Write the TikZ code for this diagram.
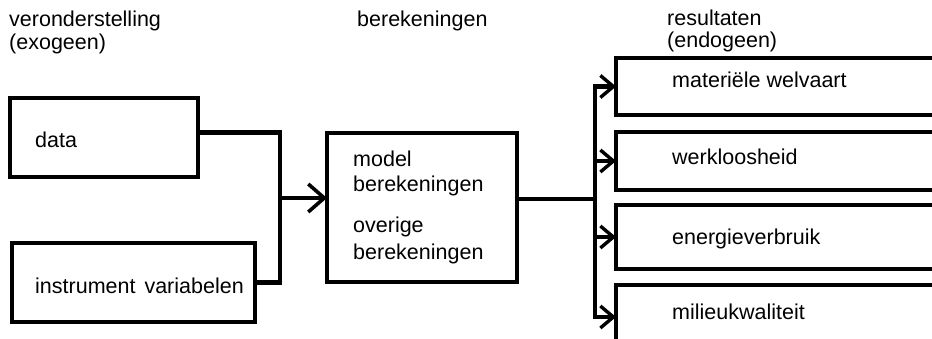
\documentclass[tikz,border=0pt]{standalone}
\usepackage{fontspec}
\setmainfont{Liberation Sans}
\usetikzlibrary{arrows.meta, positioning}

\begin{document}
\begin{tikzpicture}[x=1pt, y=-1pt]
		\tikzset {box/.style={draw, line width=3.5pt, inner sep=0pt, outer sep=0pt, anchor=north west},
			resbox/.style={box, minimum width=344pt},
			txt/.style={anchor=base west, inner sep=0pt, font=\fontsize{21.5}{26}\selectfont},
			wire/.style={line width=4.4pt},
			bigtip/.style={-{Straight Barb[length=16pt, width=28pt, line width=3.6pt]}},
			smalltip/.style={-{Straight Barb[length=13pt, width=22pt, line width=3.4pt]}} }

		\clip (0,0) rectangle (932,339);

		\node[txt] (exo) at (9,27) {veronderstelling};
		\node[txt] (exob) at (9,50) {(exogeen)};
		\node[txt] (ber) at (357,27) {berekeningen};
		\node[txt] (endo) at (667,26) {resultaten};
		\node[txt] (endob) at (667,48) {(endogeen)};

		\node[box, minimum width=188pt, minimum height=79pt] (data) at (10,98) {};
		\node[box, minimum width=243pt, minimum height=79pt] (instr) at (12,243) {};
		\node[box, minimum width=190pt, minimum height=149pt] (model) at (327,133) {};

		\node[resbox, minimum height=57pt] (welvaart) at (616,58) {};
		\node[resbox, minimum height=58pt, below=17pt of welvaart.south west, anchor=north west] (werkloos) {};
		\node[resbox, minimum height=64pt, below=15pt of werkloos.south west, anchor=north west] (energie) {};
		\node[resbox, minimum height=64pt, below=16pt of energie.south west, anchor=north west] (milieu) {};

		\node[txt] (datat) at (35,148) {data};
		\node[txt] (instrt) at (35,293) {instrument\hspace{3pt} variabelen};
		\node[txt] (modela) at (353,167) {model};
		\node[txt] (modelb) at (353,192) {berekeningen};
		\node[txt] (modelc) at (353,233) {overige};
		\node[txt] (modeld) at (353,260) {berekeningen};
		\node[txt] (welvaartt) at (672,88) {materiële welvaart};
		\node[txt] (werkloost) at (672,165) {werkloosheid};
		\node[txt] (energiet) at (672,244) {energieverbruik};
		\node[txt] (milieut) at (672,319) {milieukwaliteit};

		\coordinate (join) at (280,198);
		\coordinate (split) at (595,199);

		\draw[wire] ([yshift=5pt]data.east) -| (join);
		\draw[wire] (instr.east) -| (join);
		\draw[wire, bigtip] (join) -- (join -| model.west);
		\draw[wire] (split -| model.east) -- (split);
		\foreach \r in {welvaart, werkloos, energie, milieu}
			\draw[wire, smalltip] (split) |- (\r.west);
	\end{tikzpicture}
\end{document}
